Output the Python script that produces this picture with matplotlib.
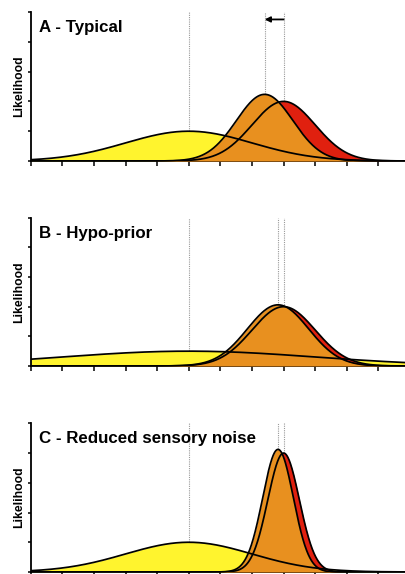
import numpy as np
import matplotlib
matplotlib.use('Agg')
import matplotlib.pyplot as plt

plt.rcParams['font.family'] = ['Liberation Sans', 'DejaVu Sans']

# Panel titles and the Gaussian parameters for prior and likelihood (x in tick units)
titulos = ['A - Typical', 'B - Hypo-prior', 'C - Reduced sensory noise']
media_prior = [5.0, 5.0, 5.0]
sd_prior = [2.0, 4.0, 2.0]
media_lik = [8.0, 8.0, 8.0]
sd_lik = [1.0, 1.0, 0.5]
escala = 2.0  # peak height = escala / sd

AMARILLO = '#FFF42E'
NARANJA = '#E8901F'
ROJO = '#E0200F'

def curva(x, mu, sd):
    return escala / sd * np.exp(-0.5 * ((x - mu) / sd) ** 2)

def posterior(mp, sp, ml, sl):
    prec = 1 / sp ** 2 + 1 / sl ** 2
    mu = (mp / sp ** 2 + ml / sl ** 2) / prec
    return mu, np.sqrt(1 / prec)

fig = plt.figure(figsize=(4.05, 5.74), dpi=100)
posiciones = [(0.0758, 0.7195, 0.9242, 0.2596),
              (0.0758, 0.3624, 0.9242, 0.2583),
              (0.0758, 0.0035, 0.9242, 0.2590)]

x = np.linspace(0, 11.84, 1200)

for i, pos in enumerate(posiciones):
    ax = fig.add_axes(pos)
    mp, sp = media_prior[i], sd_prior[i]
    ml, sl = media_lik[i], sd_lik[i]
    mq, sq = posterior(mp, sp, ml, sl)
    yp = curva(x, mp, sp)
    yl = curva(x, ml, sl)
    yq = curva(x, mq, sq)

    # fills first: prior, likelihood, posterior; outlines on top
    ax.fill_between(x, 0, yp, color=AMARILLO, lw=0, zorder=1)
    ax.fill_between(x, 0, yl, color=ROJO, lw=0, zorder=2)
    ax.fill_between(x, 0, yq, color=NARANJA, lw=0, zorder=3)
    for y in (yp, yl, yq):
        ax.plot(x, y, color='black', lw=1.25, zorder=4)

    # dotted guide lines from the top down to each peak
    for mu, sd in ((mp, sp), (ml, sl), (mq, sq)):
        ax.plot([mu, mu], [escala / sd, 5.0], color='#999999', lw=0.8,
                ls=(0, (1, 1)), zorder=0, clip_on=False)

    if i == 0:
        ax.annotate('', xy=(mq, 4.75), xytext=(ml, 4.75),
                    arrowprops=dict(arrowstyle='-|>', color='black', lw=1.3,
                                    mutation_scale=8, shrinkA=0, shrinkB=0),
                    zorder=5)

    ax.set_xlim(0, 11.84)
    ax.set_ylim(0, 5)
    ax.set_xticks(np.arange(0, 12))
    ax.set_yticks(np.arange(0, 6))
    ax.set_xticklabels([])
    ax.set_yticklabels([])
    ax.tick_params(axis='x', direction='out', length=3.5, width=1.1)
    ax.tick_params(axis='y', direction='out', length=2.5, width=1.1)
    for lado in ('top', 'right'):
        ax.spines[lado].set_visible(False)
    for lado in ('left', 'bottom'):
        ax.spines[lado].set_linewidth(1.3)
    ax.patch.set_visible(False)

    ax.text(0.022, 0.895, titulos[i], transform=ax.transAxes, fontsize=12.2,
            fontweight='bold', va='center', ha='left')
    ax.set_ylabel('Likelihood', fontsize=8.8, fontweight='bold', labelpad=-2)

fig.savefig('out.png', dpi=100)
